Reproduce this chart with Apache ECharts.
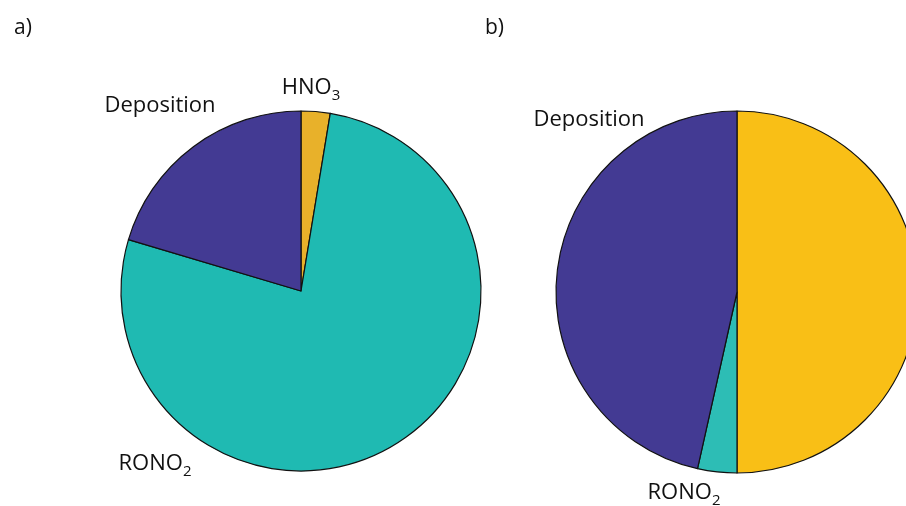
<!DOCTYPE html>
<html>
<head>
<meta charset="utf-8">
<script src="https://cdn.jsdelivr.net/npm/echarts@6/dist/echarts.min.js"></script>
<style>
  html, body { margin: 0; padding: 0; background: #fff; }
  #chart { width: 906px; height: 506px; }
</style>
</head>
<body>
<div id="chart"></div>
<script>
// Fate of NOx: share of each loss pathway, two scenarios
const categories = ['HNO3', 'RONO2', 'Deposition'];
const valuesA = [2.6, 77.0, 20.4];
const valuesB = [50.0, 3.5, 46.5];
const panelTitles = ['a)', 'b)'];

const colorsA = ['#E8B12A', '#1FBAB2', '#433A93'];
const colorsB = ['#F9BF16', '#2DBDB5', '#433A93'];

// label anchor points per panel (pixel coords in the chart)
const labelPosA = [[311, 90], [155, 466], [160, 108]];
const labelPosB = [[864, 123], [684, 495], [589, 122]];

const FONT = '"Open Sans", "Noto Sans", sans-serif';

function fmt(name) {
  // render trailing digits as a lowered subscript
  const m = name.match(/^(.*?)(\d+)$/);
  return m ? '{main|' + m[1] + '}{sub|' + m[2] + '}' : '{main|' + name + '}{pad|}';
}

function buildSeries(values, colors, center, radius, pos) {
  return {
    type: 'pie',
    center: center,
    radius: radius,
    startAngle: 90,
    clockwise: true,
    animation: false,
    silent: true,
    itemStyle: { borderColor: '#111', borderWidth: 1.2 },
    labelLine: { show: false },
    label: {
      show: true,
      position: 'outside',
      formatter: p => fmt(p.name),
      color: '#111',
      fontFamily: FONT,
      fontSize: 22,
      rich: {
        main: { fontSize: 22, fontFamily: FONT, color: '#111', verticalAlign: 'bottom', padding: [0, 0, 4, 0] },
        sub: { fontSize: 15, fontFamily: FONT, color: '#111', verticalAlign: 'bottom' },
        pad: { fontSize: 15, fontFamily: FONT, verticalAlign: 'bottom' }
      }
    },
    labelLayout: p => ({ x: pos[p.dataIndex][0], y: pos[p.dataIndex][1], align: 'center', verticalAlign: 'middle' }),
    data: categories.map((c, i) => ({ name: c, value: values[i], itemStyle: { color: colors[i] } }))
  };
}

const chart = echarts.init(document.getElementById('chart'), null, { renderer: 'canvas' });
chart.setOption({
  backgroundColor: '#fff',
  title: [
    { text: panelTitles[0], left: 9, top: 13, textStyle: { fontFamily: FONT, fontSize: 21, fontWeight: 'normal', color: '#111' } },
    { text: panelTitles[1], left: 480, top: 13, textStyle: { fontFamily: FONT, fontSize: 21, fontWeight: 'normal', color: '#111' } }
  ],
  series: [
    buildSeries(valuesA, colorsA, [301, 291], 180, labelPosA),
    buildSeries(valuesB, colorsB, [737, 292], 181, labelPosB)
  ]
});
</script>
</body>
</html>
